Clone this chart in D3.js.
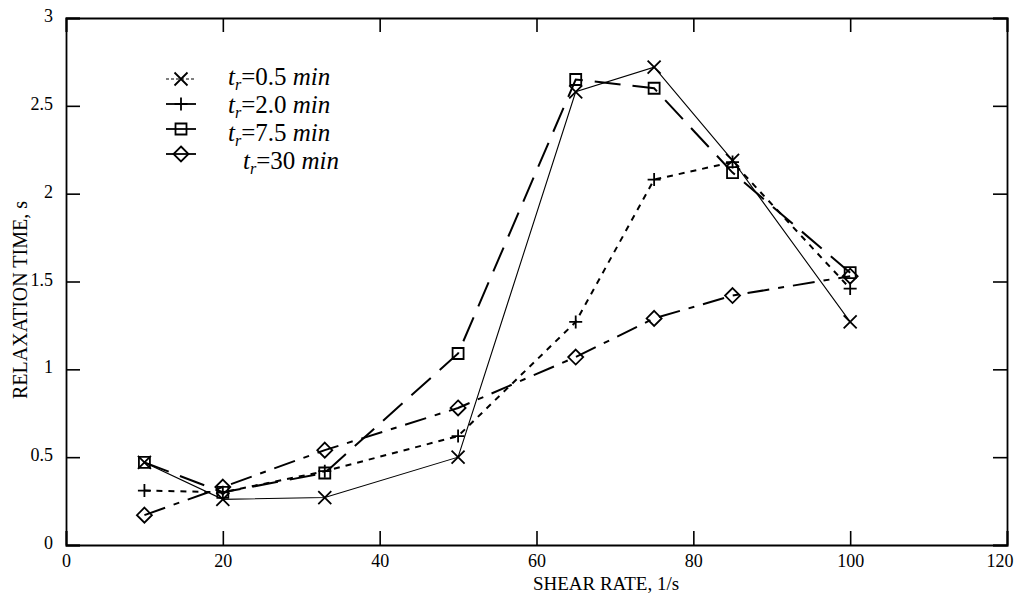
<!DOCTYPE html>
<html><head><meta charset="utf-8">
<script src="https://cdn.jsdelivr.net/npm/d3@7"></script>
<style>
html,body{margin:0;padding:0;background:#fff;}
svg text{font-family:"Liberation Serif","Times New Roman",serif;fill:#000;}
</style></head>
<body><svg id="c" width="1015" height="600"></svg>
<script>
const shearRate = [10, 20, 33, 50, 65, 75, 85, 100];
const tr05 = [0.47, 0.26, 0.27, 0.50, 2.58, 2.72, 2.19, 1.27];
const tr20 = [0.31, 0.30, 0.42, 0.62, 1.27, 2.08, 2.18, 1.46];
const tr75 = [0.47, 0.30, 0.41, 1.09, 2.65, 2.60, 2.12, 1.55];
const tr30 = [0.17, 0.33, 0.54, 0.78, 1.07, 1.29, 1.42, 1.53];
const seriesLabels = ["0.5", "2.0", "7.5", "30"];
const xTicks = [0, 20, 40, 60, 80, 100, 120];
const yTicks = [0, 0.5, 1, 1.5, 2, 2.5, 3];

const svg = d3.select("#c");
const L = 66, R = 1007, T = 18, B = 545;
const x = d3.scaleLinear().domain([0, 120]).range([L, R]);
const y = d3.scaleLinear().domain([0, 3]).range([B, T]);
const TL = 14;

const fmt = d => String(d);
const gB = svg.append("g").attr("transform", `translate(0,${B})`)
  .call(d3.axisBottom(x).tickValues(xTicks).tickSize(-TL).tickPadding(9).tickFormat(fmt));
const gT = svg.append("g").attr("transform", `translate(0,${T})`)
  .call(d3.axisTop(x).tickValues(xTicks).tickSize(-TL).tickFormat(""));
const gL = svg.append("g").attr("transform", `translate(${L},0)`)
  .call(d3.axisLeft(y).tickValues(yTicks).tickSize(-TL).tickPadding(13).tickFormat(fmt));
const gR = svg.append("g").attr("transform", `translate(${R},0)`)
  .call(d3.axisRight(y).tickValues(yTicks).tickSize(-TL).tickFormat(""));
[gB, gT, gL, gR].forEach(g => {
  g.select(".domain").attr("stroke", "#000").attr("stroke-width", 1.8);
  g.selectAll(".tick line").attr("stroke", "#000").attr("stroke-width", 1.6);
  g.selectAll(".tick text").attr("font-size", 18).attr("font-family", "Liberation Serif");
});
gT.selectAll(".tick text").remove();
gR.selectAll(".tick text").remove();
gB.selectAll(".tick text").filter(d => d === 120).attr("text-anchor", "end").attr("x", 6);
gL.selectAll(".tick text").attr("dy", "0.2em");

svg.append("text").attr("x", 606).attr("y", 590).attr("text-anchor", "middle")
  .attr("font-size", 19).text("SHEAR RATE, 1/s");
svg.append("text").attr("transform", "translate(27,300) rotate(-90)").attr("text-anchor", "middle")
  .attr("font-size", 20).text("RELAXATION TIME, s");

const series = [
  {vals: tr05, dash: null, w: 1.1, m: "x"},
  {vals: tr20, dash: "6,6", w: 2, m: "plus"},
  {vals: tr75, dash: "26,12", w: 2, m: "square"},
  {vals: tr30, dash: "22,9,6,9", w: 2, m: "diamond"}
];

function marker(g, type, cx, cy) {
  const p = d3.path();
  if (type === "x") {
    const s = 6.5;
    p.moveTo(cx - s, cy - s); p.lineTo(cx + s, cy + s);
    p.moveTo(cx - s, cy + s); p.lineTo(cx + s, cy - s);
  } else if (type === "plus") {
    const s = 6.5;
    p.moveTo(cx - s, cy); p.lineTo(cx + s, cy);
    p.moveTo(cx, cy - s); p.lineTo(cx, cy + s);
  } else if (type === "square") {
    const s = 5.5;
    p.rect(cx - s, cy - s, 2 * s, 2 * s);
  } else {
    const s = 7.5;
    p.moveTo(cx, cy - s); p.lineTo(cx + s, cy); p.lineTo(cx, cy + s); p.lineTo(cx - s, cy); p.closePath();
  }
  g.append("path").attr("d", p.toString()).attr("fill", "none").attr("stroke", "#000").attr("stroke-width", 1.8);
}

const line = d3.line().x(d => x(d[0])).y(d => y(d[1]));
series.forEach(s => {
  const pts = shearRate.map((v, i) => [v, s.vals[i]]);
  svg.append("path").attr("d", line(pts)).attr("fill", "none").attr("stroke", "#000")
    .attr("stroke-width", s.w).attr("stroke-dasharray", s.dash);
  const g = svg.append("g");
  pts.forEach(p => marker(g, s.m, x(p[0]), y(p[1])));
});

// legend
const legRows = [79, 104, 129, 154];
const textRows = [85, 113, 141, 169];
const textX = [228, 228, 228, 243];
series.forEach((s, i) => {
  const cy = legRows[i];
  svg.append("line").attr("x1", 166).attr("x2", 196).attr("y1", cy).attr("y2", cy)
    .attr("stroke", "#000").attr("stroke-width", i === 0 ? 1.1 : 1.8).attr("stroke-dasharray", i === 0 ? "3,2" : null);
  marker(svg, s.m, 181, cy);
  const t = svg.append("text").attr("x", textX[i]).attr("y", textRows[i]).attr("font-size", 25);
  t.append("tspan").attr("font-style", "italic").text("t");
  t.append("tspan").attr("font-style", "italic").attr("font-size", 16).attr("dy", 5).text("r");
  t.append("tspan").attr("dy", -5).text("=" + seriesLabels[i] + " ");
  t.append("tspan").attr("font-style", "italic").text("min");
});
</script></body></html>
